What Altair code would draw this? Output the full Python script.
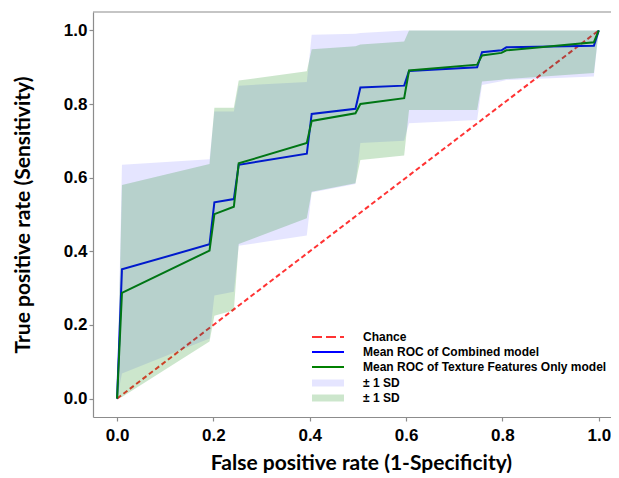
import altair as alt
import pandas as pd

# ---- data ----
fpr = [0.0, 0.0101, 0.1919, 0.2020, 0.2424, 0.2525, 0.3939, 0.4040, 0.4949,
       0.5051, 0.5960, 0.6061, 0.7475, 0.7576, 0.7980, 0.8081, 0.9899, 1.0]

comb_mean = [0.0, 0.351, 0.419, 0.533, 0.542, 0.635, 0.665, 0.773, 0.787,
             0.845, 0.850, 0.890, 0.900, 0.941, 0.946, 0.954, 0.958, 1.0]
comb_upper = [0.0, 0.635, 0.650, 0.780, 0.780, 0.850, 0.860, 0.988, 0.991,
              0.993, 1.0, 1.0, 1.0, 1.0, 1.0, 1.0, 1.0, 1.0]
comb_lower = [0.0, 0.068, 0.163, 0.280, 0.290, 0.415, 0.443, 0.560, 0.583,
              0.694, 0.700, 0.748, 0.757, 0.852, 0.862, 0.865, 0.875, 1.0]

tex_mean = [0.0, 0.287, 0.402, 0.501, 0.521, 0.639, 0.694, 0.754, 0.775,
            0.800, 0.816, 0.891, 0.907, 0.932, 0.939, 0.946, 0.968, 1.0]
tex_upper = [0.0, 0.580, 0.637, 0.790, 0.790, 0.864, 0.889, 0.949, 0.957,
             0.962, 0.970, 1.0, 1.0, 1.0, 1.0, 1.0, 1.0, 1.0]
tex_lower = [0.0, 0.004, 0.155, 0.225, 0.240, 0.420, 0.490, 0.562, 0.585,
             0.648, 0.660, 0.784, 0.784, 0.861, 0.866, 0.868, 0.884, 1.0]

chance_x = [0.0, 1.0]
chance_y = [0.0, 1.0]

tick_values = [0.0, 0.2, 0.4, 0.6, 0.8, 1.0]
x_title = "False positive rate (1-Specificity)"
y_title = "True positive rate (Sensitivity)"
legend_labels = ["Chance", "Mean ROC of Combined model",
                 "Mean ROC of Texture Features Only model", "\u00b1 1 SD", "\u00b1 1 SD"]

# ---- tables ----
comb = pd.DataFrame({"fpr": fpr, "mean": comb_mean, "lo": comb_lower, "hi": comb_upper})
tex = pd.DataFrame({"fpr": fpr, "mean": tex_mean, "lo": tex_lower, "hi": tex_upper})
chance = pd.DataFrame({"fpr": chance_x, "mean": chance_y})
one = pd.DataFrame({"k": [0]})

W, H = 518, 405
GRAY = "#8c8c8c"

xaxis = alt.Axis(values=tick_values, format=".1f", title=x_title,
                 titleX=268, titleY=52, titleAlign="center", titleBaseline="alphabetic")
yaxis = alt.Axis(values=tick_values, format=".1f", title=y_title,
                 titleX=-64, titleY=H / 2, titleAlign="center", titleBaseline="alphabetic",
                 titleAngle=270)
X = alt.X("fpr:Q", scale=alt.Scale(domain=[-0.05, 1.0254], nice=False, zero=False), axis=xaxis)
Y = alt.Y("mean:Q", scale=alt.Scale(domain=[-0.05, 1.05], nice=False, zero=False), axis=yaxis)
Ylo = alt.Y("lo:Q", scale=alt.Scale(domain=[-0.05, 1.05], nice=False, zero=False), axis=yaxis)

chance_line = alt.Chart(chance).mark_line(color="#ff0000", opacity=0.8, strokeWidth=2,
                                          strokeDash=[5, 3]).encode(x=X, y=Y)
comb_line = alt.Chart(comb).mark_line(color="#0000ff", strokeWidth=2).encode(x=X, y=Y)
tex_line = alt.Chart(tex).mark_line(color="#008000", strokeWidth=2).encode(x=X, y=Y)
comb_band = alt.Chart(comb).mark_area(color="#0000ff", opacity=0.1).encode(x=X, y=Ylo, y2="hi:Q")
tex_band = alt.Chart(tex).mark_area(color="#008000", opacity=0.2).encode(x=X, y=Ylo, y2="hi:Q")

top_spine = alt.Chart(one).mark_rule(color=GRAY, strokeWidth=1.2).encode(
    x=alt.value(0), x2=alt.value(W), y=alt.value(0))

# ---- manual legend ----
rows = [325, 340, 355, 371, 386]
sx0, sx1, tx = 219, 251, 270
leg = []
leg.append(alt.Chart(one).mark_rule(color="#ff0000", opacity=0.8, strokeWidth=2, strokeDash=[10, 4]).encode(
    x=alt.value(sx0), x2=alt.value(sx1), y=alt.value(rows[0])))
leg.append(alt.Chart(one).mark_rule(color="#0000ff", strokeWidth=2).encode(
    x=alt.value(sx0), x2=alt.value(sx1), y=alt.value(rows[1])))
leg.append(alt.Chart(one).mark_rule(color="#008000", strokeWidth=2).encode(
    x=alt.value(sx0), x2=alt.value(sx1), y=alt.value(rows[2])))
leg.append(alt.Chart(one).mark_rect(color="#0000ff", opacity=0.1).encode(
    x=alt.value(sx0), x2=alt.value(sx1), y=alt.value(rows[3] - 3.5), y2=alt.value(rows[3] + 3.5)))
leg.append(alt.Chart(one).mark_rect(color="#008000", opacity=0.2).encode(
    x=alt.value(sx0), x2=alt.value(sx1), y=alt.value(rows[4] - 3.5), y2=alt.value(rows[4] + 3.5)))
for lab, r in zip(legend_labels, rows):
    leg.append(alt.Chart(one).mark_text(align="left", baseline="middle", font="Liberation Sans",
                                        fontWeight="bold", fontSize=12, color="black").encode(
        x=alt.value(tx), y=alt.value(r), text=alt.value(lab)))

chart = alt.layer(chance_line, comb_line, tex_line, comb_band, tex_band, top_spine, *leg).properties(
    width=W, height=H,
    autosize=alt.AutoSizeParams(type="none"),
    padding={"left": 85, "top": 4, "right": 0, "bottom": 56},
).configure_view(stroke=None).configure_axis(
    grid=False, domainColor=GRAY, domainWidth=1.2, tickColor=GRAY, tickWidth=1.2, tickSize=4,
    labelFont="Liberation Sans", labelFontWeight="bold", labelFontSize=17, labelColor="black",
    titleFont="Lato", titleFontWeight="bold", titleFontSize=21, titleColor="black",
).configure_axisLeft(labelPadding=2).configure_axisBottom(labelPadding=6)

chart.save("out.html", embed_options={"renderer": "svg", "actions": False})
